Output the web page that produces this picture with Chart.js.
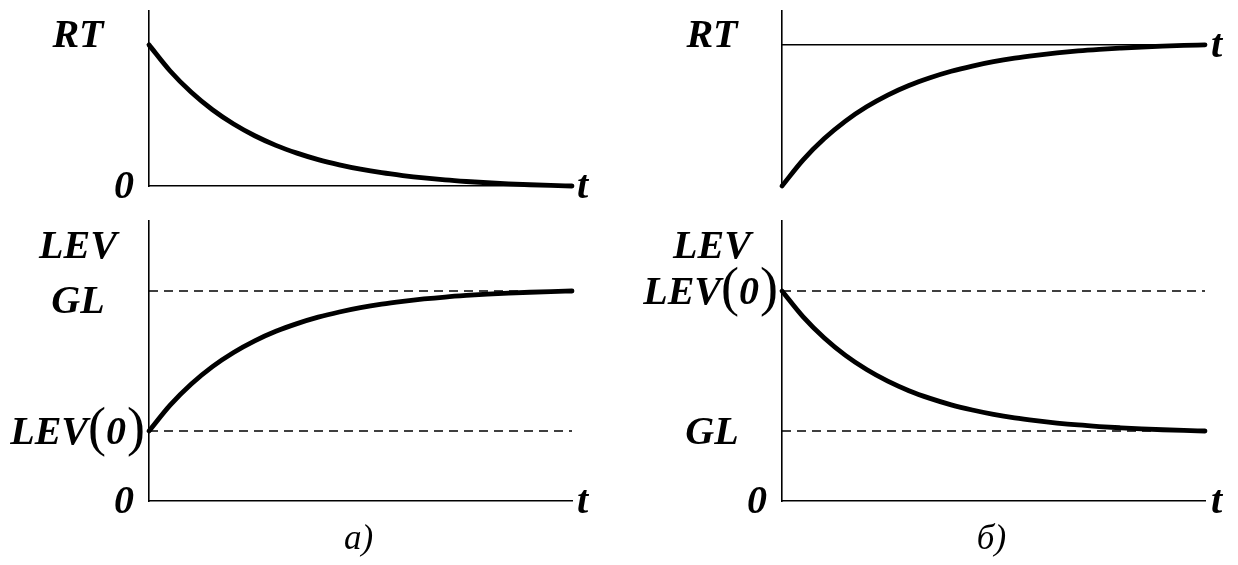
<!DOCTYPE html>
<html>
<head>
<meta charset="utf-8">
<script src="https://cdn.jsdelivr.net/npm/chart.js@4.4.1/dist/chart.umd.min.js"></script>
<style>
  html, body { margin: 0; padding: 0; background: #fff; }
  #wrap { position: relative; width: 1238px; height: 565px; overflow: hidden; }
  #wrap canvas { position: absolute; left: 0; top: 0; }
</style>
</head>
<body>
<div id="wrap">
  <canvas id="cTL" width="1238" height="565"></canvas>
  <canvas id="cTR" width="1238" height="565"></canvas>
  <canvas id="cBL" width="1238" height="565"></canvas>
  <canvas id="cBR" width="1238" height="565"></canvas>
</div>
<script>
// ---- data ----
const tValues = [0, 0.5, 1, 1.5, 2, 2.5, 3, 3.5, 4, 4.5, 5, 5.5, 6, 6.5, 7, 7.5, 8, 8.5, 9, 9.5, 10];
// a) top: RT falls from RT to 0 (in units of RT)
const rtFallA = [1.000, 0.815, 0.664, 0.540, 0.439, 0.356, 0.288, 0.233, 0.187, 0.150, 0.119, 0.094, 0.074, 0.057, 0.043, 0.032, 0.023, 0.015, 0.009, 0.004, 0.000];
// a) bottom: LEV rises from LEV(0)=1 to GL=3
const levRiseA = [1.000, 1.370, 1.672, 1.920, 2.122, 2.288, 2.424, 2.534, 2.626, 2.700, 2.762, 2.812, 2.852, 2.886, 2.914, 2.936, 2.954, 2.970, 2.982, 2.992, 3.000];
// б) top: RT rises from 0 to RT
const rtRiseB = [0.000, 0.185, 0.336, 0.460, 0.561, 0.644, 0.712, 0.767, 0.813, 0.850, 0.881, 0.906, 0.926, 0.943, 0.957, 0.968, 0.977, 0.985, 0.991, 0.996, 1.000];
// б) bottom: LEV falls from LEV(0)=3 to GL=1
const levFallB = [3.000, 2.630, 2.328, 2.080, 1.878, 1.712, 1.576, 1.466, 1.374, 1.300, 1.238, 1.188, 1.148, 1.114, 1.086, 1.064, 1.046, 1.030, 1.018, 1.008, 1.000];
// reference levels
const tSpan = [0, 10];
const rtLevel = 1;
const glLevelA = [3, 3];
const lev0LevelA = [1, 1];
const glLevelB = [1, 1];
const lev0LevelB = [3, 3];
const rtAxisMax = [1.24];
const levAxisMax = [4];
// texts
const rtLabels = ['RT', '0', 't'];
const levLabels = ['LEV', 'GL', 'LEV', '0', 't'];
const captions = ['a)', 'б)'];

const BI = 'bold italic 40px "Liberation Serif", "Times New Roman", serif';
const PAREN = '54px "Liberation Serif", "Times New Roman", serif';
const CAP = 'italic 35px "Liberation Serif", "Times New Roman", serif';

function pts(xs, ys) { return xs.map((x, i) => ({ x: x, y: ys[i] })); }

const textPlugin = {
  id: 'panelText',
  afterDraw(chart, args, opts) {
    const ctx = chart.ctx;
    const ca = chart.chartArea;
    const ys = chart.scales.y;
    ctx.save();
    ctx.fillStyle = '#000';
    ctx.textBaseline = 'alphabetic';
    (opts.items || []).forEach(it => {
      const y = ys.getPixelForValue(it.value) + it.dy;
      let x;
      if (it.from === 'right') x = ca.right + it.dx;
      else if (it.from === 'center') x = (ca.left + ca.right) / 2 + it.dx;
      else x = ca.left + it.dx;
      if (it.kind === 'lev0') {
        ctx.font = PAREN; const wp = ctx.measureText(')').width;
        const wo = ctx.measureText('(').width;
        ctx.font = BI; const w0 = ctx.measureText('0').width;
        const wl = ctx.measureText(it.text).width;
        let cx = x - wp;
        ctx.textAlign = 'left';
        ctx.font = PAREN; ctx.fillText(')', cx, y + 1);
        cx -= w0 + 1; ctx.font = BI; ctx.fillText('0', cx, y);
        cx -= wo; ctx.font = PAREN; ctx.fillText('(', cx, y + 1);
        cx -= wl; ctx.font = BI; ctx.fillText(it.text, cx, y);
      } else {
        ctx.font = it.font || BI;
        ctx.textAlign = it.align || 'center';
        ctx.fillText(it.text, x, y);
      }
    });
    ctx.restore();
  }
};

function axisOpts(extra) {
  return Object.assign({
    type: 'linear',
    display: true,
    grid: { display: false, drawTicks: false },
    border: { display: true, color: '#000', width: 1.6 },
    ticks: { display: false }
  }, extra);
}

function makePanel(id, padding, yMax, datasets, xPos, items) {
  return new Chart(document.getElementById(id), {
    type: 'line',
    data: { datasets: datasets },
    options: {
      responsive: false,
      animation: false,
      devicePixelRatio: 1,
      events: [],
      layout: { padding: padding },
      scales: {
        x: axisOpts({ min: tSpan[0], max: tSpan[1], position: xPos }),
        y: axisOpts({ min: 0, max: yMax, position: 'left' })
      },
      plugins: {
        legend: { display: false },
        tooltip: { enabled: false },
        panelText: { items: items }
      }
    },
    plugins: [textPlugin]
  });
}

function curve(ys) {
  return {
    data: pts(tValues, ys),
    borderColor: '#000',
    borderWidth: 4.8,
    borderCapStyle: 'round',
    borderJoinStyle: 'round',
    pointRadius: 0,
    cubicInterpolationMode: 'monotone',
    clip: false
  };
}
function dashed(ys) {
  return {
    data: pts(tSpan, ys),
    borderColor: '#000',
    borderWidth: 1.5,
    borderDash: [9, 6],
    pointRadius: 0,
    clip: false
  };
}

// a) top
makePanel('cTL', { left: 149, right: 666, top: 11, bottom: 379 }, rtAxisMax[0],
  [curve(rtFallA)], 'bottom',
  [
    { text: rtLabels[0], value: rtLevel, dx: -71, dy: 2 },
    { text: rtLabels[1], value: 0, dx: -15, dy: 12, align: 'right' },
    { text: rtLabels[2], value: 0, from: 'right', dx: 5, dy: 12, align: 'left' }
  ]);

// б) top
makePanel('cTR', { left: 782, right: 33, top: 11, bottom: 379 }, rtAxisMax[0],
  [curve(rtRiseB)], { y: rtLevel },
  [
    { text: rtLabels[0], value: rtLevel, dx: -70, dy: 2 },
    { text: rtLabels[2], value: rtLevel, from: 'right', dx: 6, dy: 12, align: 'left' }
  ]);

// a) bottom
makePanel('cBL', { left: 149, right: 666, top: 221, bottom: 64 }, levAxisMax[0],
  [curve(levRiseA), dashed(glLevelA), dashed(lev0LevelA)], 'bottom',
  [
    { text: levLabels[0], value: levAxisMax[0], dx: -71, dy: 37 },
    { text: levLabels[1], value: glLevelA[0], dx: -71, dy: 22 },
    { text: levLabels[2], kind: 'lev0', value: lev0LevelA[0], dx: -4, dy: 13 },
    { text: levLabels[3], value: 0, dx: -15, dy: 12, align: 'right' },
    { text: levLabels[4], value: 0, from: 'right', dx: 5, dy: 12, align: 'left' },
    { text: captions[0], value: 0, from: 'center', dx: -2, dy: 48, font: CAP }
  ]);

// б) bottom
makePanel('cBR', { left: 782, right: 33, top: 221, bottom: 64 }, levAxisMax[0],
  [curve(levFallB), dashed(glLevelB), dashed(lev0LevelB)], 'bottom',
  [
    { text: levLabels[0], value: levAxisMax[0], dx: -70, dy: 37 },
    { text: levLabels[2], kind: 'lev0', value: lev0LevelB[0], dx: -4, dy: 13 },
    { text: levLabels[1], value: glLevelB[0], dx: -70, dy: 13 },
    { text: levLabels[3], value: 0, dx: -15, dy: 12, align: 'right' },
    { text: levLabels[4], value: 0, from: 'right', dx: 6, dy: 12, align: 'left' },
    { text: captions[1], value: 0, from: 'center', dx: -2, dy: 48, font: CAP }
  ]);
</script>
</body>
</html>
